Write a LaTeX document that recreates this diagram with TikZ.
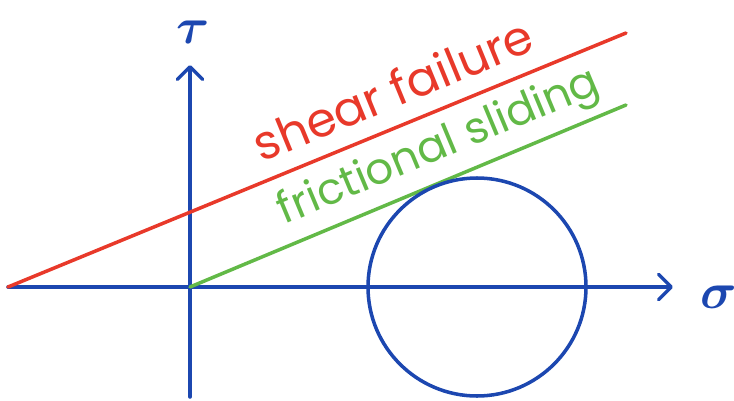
\documentclass[tikz,border=0pt]{standalone}
\usepackage{fontspec}
\setsansfont{Poppins}
\usepackage{amsmath}
\usepackage{tikz}
\usetikzlibrary{arrows.meta}
\definecolor{axblue}{HTML}{1C47B0}
\definecolor{failred}{HTML}{E8392A}
\definecolor{slidegreen}{HTML}{62B947}

\begin{document}
\begin{tikzpicture}[
  x=0.025cm, y=-0.025cm,
  every node/.style={inner sep=0pt},
  axis/.style={draw=axblue, line width=2.5pt, line cap=round, -{Straight Barb[length=9pt, width=18pt, line width=2.5pt, round]}},
  envelope/.style={line width=2.5pt, line cap=round},
  lbl/.style={font=\sffamily\fontsize{31}{34}\selectfont, sloped, anchor=base},
  axlbl/.style={font=\Huge, scale=1.45, text=axblue}
]
\useasboundingbox (0,0) rectangle (734,400);
% axes
\coordinate (origin) at (190,287);
\coordinate (xstart) at (8,287);
\coordinate (xend) at (673,287);
\coordinate (ybot) at (190,397);
\coordinate (yend) at (190,65);
\draw[axis] (xstart) -- (xend);
\draw[axis] (ybot) -- (yend);
\node[axlbl] (tau) at (193,32) {$\boldsymbol{\tau}$};
\node[axlbl] (sigma) at (719,297) {$\boldsymbol{\sigma}$};
% failure envelopes
\coordinate (redend) at (626,33);
\coordinate (greenend) at (626,105);
\draw[envelope, failred] (xstart) -- (redend)
  node[lbl, pos=0.645, yshift=13pt, text=failred, font=\sffamily\fontsize{34}{36}\selectfont] (shear) {shear failure};
\draw[envelope, slidegreen] (origin) -- (greenend)
  node[lbl, pos=0.6, yshift=15pt, text=slidegreen] (friction) {frictional sliding};
% mohr circle
\coordinate (centre) at (477,287);
\draw[axblue, line width=2.5pt] (centre) circle[radius=109];
\end{tikzpicture}
\end{document}
